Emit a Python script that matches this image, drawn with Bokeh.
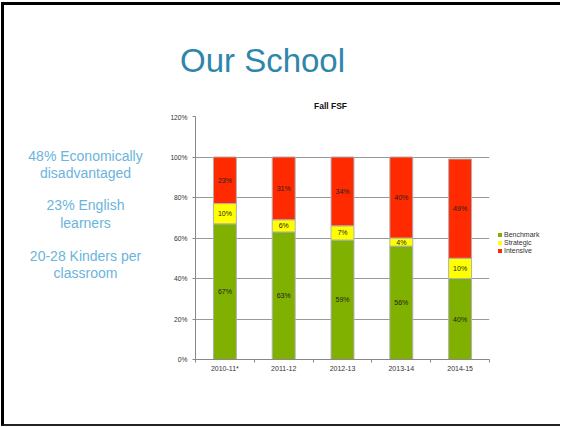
from bokeh.plotting import figure
from bokeh.layouts import column, row
from bokeh.models import (Range1d, FixedTicker, PrintfTickFormatter, Legend,
                          LegendItem, ColumnDataSource)
from bokeh.core.properties import value
from bokeh.embed import file_html
from bokeh.resources import INLINE

# ---- data ----
years = ["2010-11*", "2011-12", "2012-13", "2013-14", "2014-15"]
benchmark = [67, 63, 59, 56, 40]
strategic = [10, 6, 7, 4, 10]
intensive = [23, 31, 34, 40, 49]
series_names = ["Benchmark", "Strategic", "Intensive"]
series_colors = ["#80B000", "#FFFF00", "#FF2A00"]
y_ticks = [0, 20, 40, 60, 80, 100, 120]

title_text = "Our School"
chart_title = "Fall FSF"
side_lines = ["48% Economically", "disadvantaged", "23% English", "learners",
              "20-28 Kinders per", "classroom"]

FONT = "Liberation Sans"


def blank(width, height, x0, x1, y0, y1):
    f = figure(width=width, height=height, output_backend="svg", toolbar_location=None,
               x_range=Range1d(x0, x1), y_range=Range1d(y1, y0),
               x_axis_type=None, y_axis_type=None, min_border=0)
    f.outline_line_color = None
    f.grid.visible = False
    f.background_fill_color = "white"
    f.border_fill_color = "white"
    return f


# ---- top band: slide title + chart title (page-pixel coordinates) ----
top = blank(556, 108, 4, 560, 5, 113)
top.text(x=[262], y=[60], text=[title_text], text_align="center", text_baseline="middle",
         text_font=value(FONT), text_font_size="33px", text_color="#2E86AB")
top.text(x=[330], y=[105], text=[chart_title], text_align="center", text_baseline="middle",
         text_font=value(FONT), text_font_size="8.5px", text_font_style="bold",
         text_color="#111111")

# ---- left band: school facts (frame aligned with chart frame: 116..359) ----
left = blank(150, 311, 4, 154, 116, 359)
left.text(x=[85] * len(side_lines), y=[155, 172, 204, 222, 255, 272], text=side_lines,
          text_align="center", text_baseline="middle", text_font=value(FONT),
          text_font_size="14px", text_color="#6BB4DB")

# ---- chart ----
xs = [i + 0.5 for i in range(len(years))]
source = ColumnDataSource(dict(x=xs, Benchmark=benchmark, Strategic=strategic,
                               Intensive=intensive))

p = figure(width=337, height=311, output_backend="svg", toolbar_location=None,
           x_range=Range1d(0, len(years)), y_range=Range1d(0, 120),
           min_border_left=41, min_border_top=3, min_border_right=2,
           min_border_bottom=65)
p.outline_line_color = None
p.background_fill_color = "white"
p.border_fill_color = "white"

p.vbar_stack(series_names, x="x", width=0.39, color=series_colors,
             line_color="#b0b0b0", line_width=1, source=source)

lab_x, lab_y, lab_t = [], [], []
for i in range(len(years)):
    bottom = 0
    for vals in (benchmark, strategic, intensive):
        v = vals[i]
        lab_x.append(xs[i])
        lab_y.append(bottom + v / 2)
        lab_t.append(f"{v}%")
        bottom += v
p.text(x=lab_x, y=lab_y, text=lab_t, text_align="center", text_baseline="middle",
       text_font=value(FONT), text_font_size="7px", text_color="#222222")

p.yaxis.ticker = FixedTicker(ticks=y_ticks)
p.yaxis.formatter = PrintfTickFormatter(format="%d%%")
p.yaxis.major_tick_out = 3
p.yaxis.major_tick_in = 0
p.yaxis.minor_tick_out = 0
p.yaxis.minor_tick_in = 0
p.yaxis.major_label_standoff = 5
p.yaxis.axis_line_color = "#888888"
p.yaxis.major_tick_line_color = "#888888"
p.yaxis.major_label_text_font = FONT
p.yaxis.major_label_text_font_size = "6.7px"
p.yaxis.major_label_text_color = "#333333"

p.xaxis.ticker = FixedTicker(ticks=xs, minor_ticks=list(range(len(years) + 1)))
p.xaxis.major_label_overrides = {x: y for x, y in zip(xs, years)}
p.xaxis.major_tick_out = 0
p.xaxis.major_tick_in = 0
p.xaxis.minor_tick_out = 3
p.xaxis.minor_tick_in = 0
p.xaxis.minor_tick_line_color = "#888888"
p.xaxis.axis_line_color = "#888888"
p.xaxis.major_label_standoff = 2
p.xaxis.major_label_text_font = FONT
p.xaxis.major_label_text_font_size = "7px"
p.xaxis.major_label_text_color = "#333333"

p.xgrid.visible = False
p.ygrid.grid_line_color = "#999999"

# ---- legend panel (frame aligned with chart frame) ----
lf = blank(69, 311, 491, 560, 116, 359)
items = []
for name, col in zip(series_names, series_colors):
    # legend proxy: one undrawn (NaN) point carrying the series colour
    r = lf.rect(x=[float("nan")], y=[float("nan")], width=1, height=1,
                fill_color=col, line_color=None)
    items.append(LegendItem(label=name, renderers=[r]))
legend = Legend(items=items, location=(6, 105), border_line_color=None,
                background_fill_alpha=0, padding=0, margin=0, spacing=1,
                glyph_width=5, glyph_height=5, label_standoff=2, label_height=7,
                label_text_font=FONT, label_text_font_size="7px",
                label_text_color="#333333")
lf.add_layout(legend)

layout = column(top, row(left, p, lf, spacing=0), spacing=0,
                styles={"border-top": "3px solid #000", "border-left": "3px solid #000",
                        "border-bottom": "2px solid #222", "margin-top": "2px",
                        "margin-left": "1px"})

open("out.html", "w").write(file_html(layout, INLINE))
